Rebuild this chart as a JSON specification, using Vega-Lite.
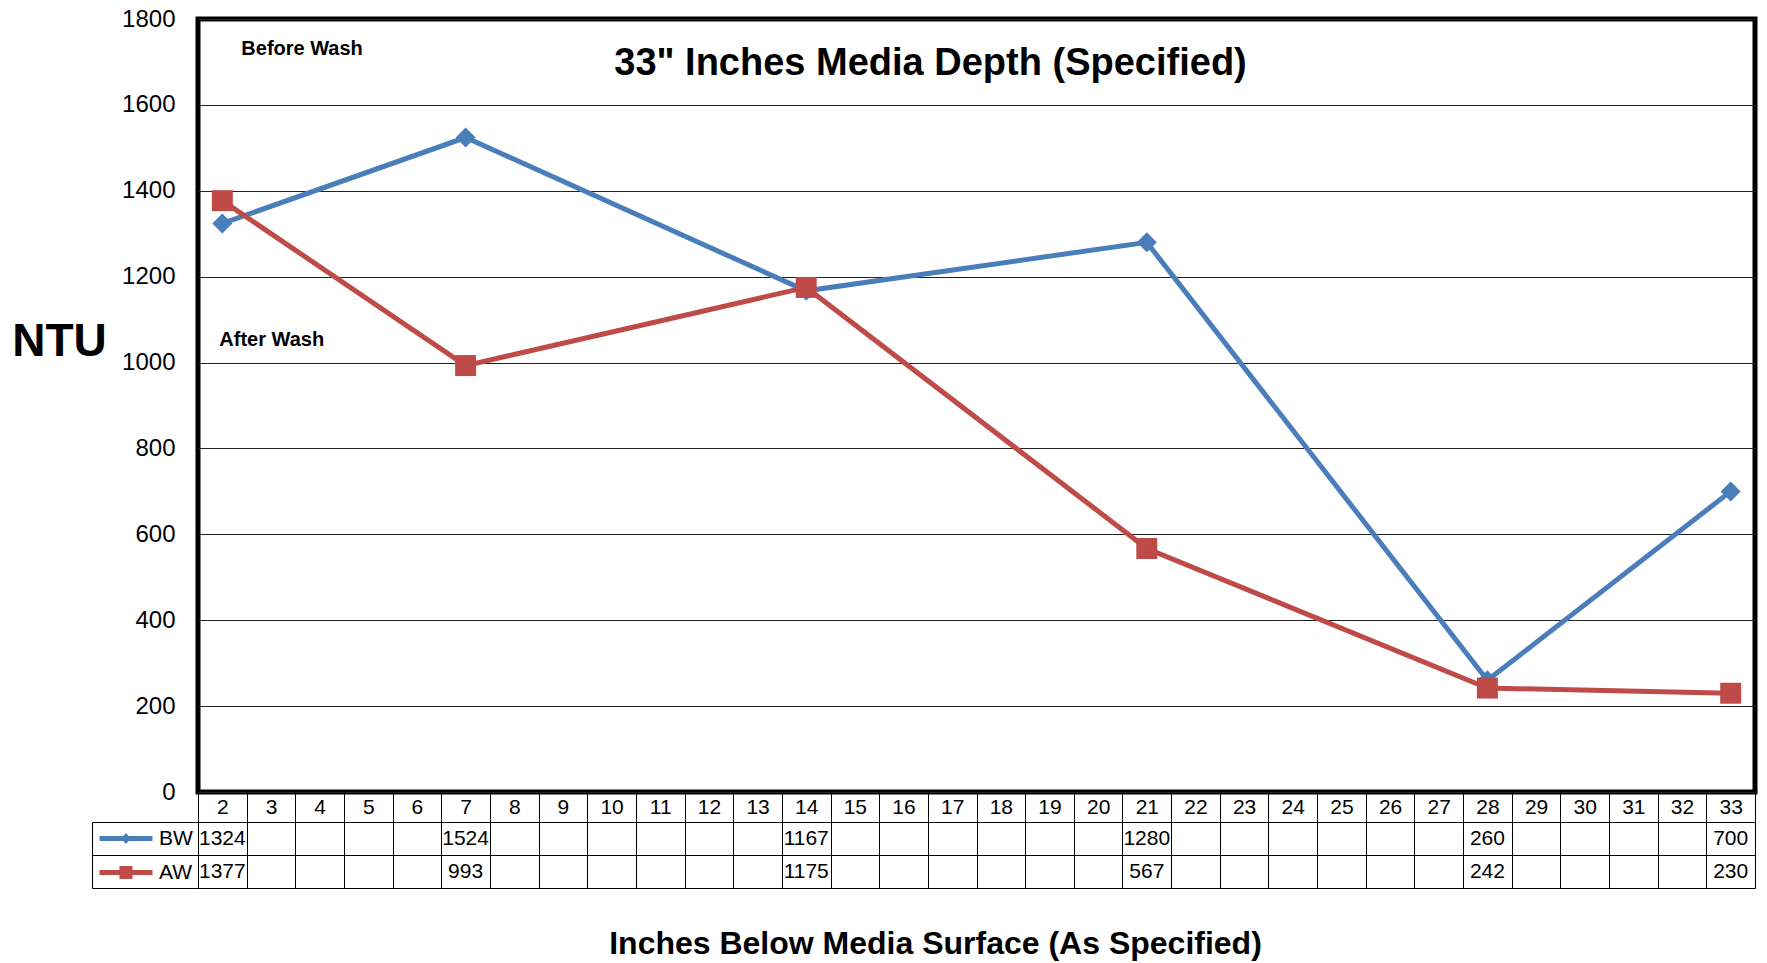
{
  "$schema": "https://vega.github.io/schema/vega-lite/v6.json",
  "autosize": {"type": "none"},
  "width": 1557,
  "height": 773,
  "padding": {"left": 198, "top": 19, "right": 12, "bottom": 171},
  "background": "white",
  "config": {
    "font": "Liberation Sans",
    "view": {"stroke": "black", "strokeWidth": 5},
    "axis": {"labelColor": "black", "titleColor": "black"}
  },
  "datasets": {
    "ntu": [
      {"depth": 2, "series": "BW", "ntu": 1324},
      {"depth": 7, "series": "BW", "ntu": 1524},
      {"depth": 14, "series": "BW", "ntu": 1167},
      {"depth": 21, "series": "BW", "ntu": 1280},
      {"depth": 28, "series": "BW", "ntu": 260},
      {"depth": 33, "series": "BW", "ntu": 700},
      {"depth": 2, "series": "AW", "ntu": 1377},
      {"depth": 7, "series": "AW", "ntu": 993},
      {"depth": 14, "series": "AW", "ntu": 1175},
      {"depth": 21, "series": "AW", "ntu": 567},
      {"depth": 28, "series": "AW", "ntu": 242},
      {"depth": 33, "series": "AW", "ntu": 230}
    ],
    "notes": [
      {"note": "Before Wash", "depth": 2, "ntu": 1730},
      {"note": "After Wash", "depth": 2, "ntu": 1052}
    ]
  },
  "data": {"name": "ntu"},
  "title": {
    "text": "33\" Inches Media Depth (Specified)",
    "font": "Liberation Sans Narrow, Liberation Sans",
    "fontSize": 38,
    "fontWeight": "bold",
    "color": "black",
    "anchor": "middle",
    "frame": "group",
    "baseline": "middle",
    "offset": -95,
    "dx": -46
  },
  "encoding": {
    "x": {
      "field": "depth",
      "type": "ordinal",
      "scale": {
        "type": "band",
        "domain": [2,3,4,5,6,7,8,9,10,11,12,13,14,15,16,17,18,19,20,21,22,23,24,25,26,27,28,29,30,31,32,33],
        "paddingInner": 0,
        "paddingOuter": 0
      },
      "axis": {
        "title": "Inches Below Media Surface (As Specified)",
        "titleFontSize": 32,
        "titleFontWeight": "bold",
        "titleX": 737,
        "titleY": 151,
        "titleBaseline": "middle",
        "titleAlign": "center",
        "labelAngle": 0,
        "labelFontSize": 21,
        "labelBaseline": "middle",
        "labelPadding": -81,
        "ticks": true,
        "tickBand": "extent",
        "tickSize": 96,
        "tickColor": "black",
        "tickWidth": 1,
        "domain": false,
        "grid": false
      }
    }
  },
  "layer": [
    {
      "encoding": {
        "y": {
          "field": "ntu",
          "type": "quantitative",
          "scale": {"domain": [0, 1800], "nice": false, "zero": true},
          "axis": {
            "values": [0, 200, 400, 600, 800, 1000, 1200, 1400, 1600, 1800],
            "format": "d",
            "title": "NTU",
            "titleAngle": 0,
            "titleX": -139,
            "titleY": 322,
            "titleAlign": "center",
            "titleBaseline": "middle",
            "titleFontSize": 46,
            "titleFontWeight": "bold",
            "labelFontSize": 24,
            "labelPadding": 23,
            "ticks": false,
            "domain": false,
            "grid": true,
            "gridColor": "#222222",
            "gridWidth": 1
          }
        }
      },
      "layer": [
        {
          "transform": [{"filter": "datum.series === 'BW'"}],
          "mark": {"type": "line", "strokeWidth": 5},
          "encoding": {
            "color": {
              "field": "series",
              "type": "nominal",
              "scale": {"domain": ["BW", "AW"], "range": ["#4a7ebb", "#be4b48"]},
              "legend": {
                "orient": "none",
                "legendX": -100,
                "legendY": 809,
                "padding": 0,
                "title": null,
                "symbolSize": 400,
                "labelFontSize": 21,
                "labelOffset": 40,
                "rowPadding": 12,
                "labelColor": "black",
                "encode": {
                  "symbols": {
                    "update": {
                      "shape": [
                        {"test": "datum.value === 'BW'", "value": "M-0.9,-0.25L4.4,-0.25L4.4,0.25L-0.9,0.25Z M1.75,-0.55L2.25,0L1.75,0.55L1.25,0Z"},
                        {"value": "M-0.9,-0.25L4.4,-0.25L4.4,0.25L-0.9,0.25Z M1.1,-0.65L2.4,-0.65L2.4,0.65L1.1,0.65Z"}
                      ],
                      "fill": [
                        {"test": "datum.value === 'BW'", "value": "#4a7ebb"},
                        {"value": "#be4b48"}
                      ],
                      "stroke": {"value": "transparent"},
                      "strokeWidth": {"value": 0},
                      "opacity": {"value": 1}
                    }
                  }
                }
              }
            }
          }
        },
        {
          "transform": [{"filter": "datum.series === 'BW'"}],
          "mark": {"type": "point", "shape": "diamond", "filled": true, "size": 400, "opacity": 1},
          "encoding": {"color": {"field": "series", "type": "nominal"}}
        },
        {
          "transform": [{"filter": "datum.series === 'AW'"}],
          "mark": {"type": "line", "strokeWidth": 5},
          "encoding": {"color": {"field": "series", "type": "nominal"}}
        },
        {
          "transform": [{"filter": "datum.series === 'AW'"}],
          "mark": {"type": "point", "shape": "square", "filled": true, "size": 440, "opacity": 1},
          "encoding": {"color": {"field": "series", "type": "nominal"}}
        },
        {
          "data": {"name": "notes"},
          "transform": [{"filter": "datum.note === 'Before Wash'"}],
          "mark": {"type": "text", "align": "left", "baseline": "middle", "fontSize": 20, "fontWeight": "bold", "color": "black", "dx": 19},
          "encoding": {"text": {"field": "note"}}
        },
        {
          "data": {"name": "notes"},
          "transform": [{"filter": "datum.note === 'After Wash'"}],
          "mark": {"type": "text", "align": "left", "baseline": "middle", "fontSize": 20, "fontWeight": "bold", "color": "black", "dx": -3},
          "encoding": {"text": {"field": "note"}}
        }
      ]
    },
    {
      "mark": {"type": "text", "fontSize": 21, "color": "black", "align": "center", "baseline": "middle"},
      "encoding": {
        "y": {
          "field": "series",
          "type": "nominal",
          "scale": {"type": "band", "domain": ["BW", "AW"], "range": [803, 869], "paddingInner": 0, "paddingOuter": 0},
          "axis": {
            "title": null,
            "labels": false,
            "orient": "left",
            "offset": 106,
            "tickBand": "extent",
            "tickSize": -106,
            "ticks": true,
            "tickColor": "black",
            "tickWidth": 1,
            "domain": true,
            "domainColor": "black",
            "domainWidth": 1,
            "grid": true,
            "gridColor": "black",
            "gridWidth": 1
          }
        },
        "text": {"field": "ntu", "type": "quantitative", "format": "d"}
      }
    }
  ],
  "resolve": {"scale": {"y": "independent"}, "axis": {"y": "independent"}}
}
